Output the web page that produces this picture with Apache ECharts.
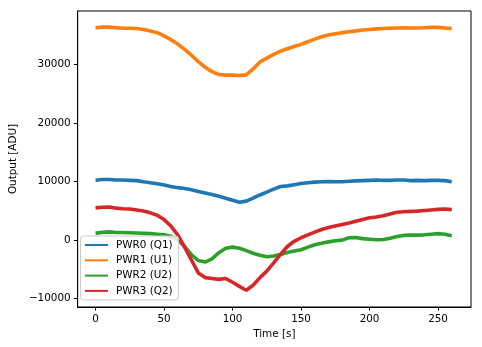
<!DOCTYPE html>
<html>
<head>
<meta charset="utf-8">
<script src="https://cdn.jsdelivr.net/npm/echarts@6/dist/echarts.min.js"></script>
<style>
html,body{margin:0;padding:0;background:#fff;}
#chart{width:482px;height:347px;}
</style>
</head>
<body>
<div id="chart"></div>
<script>
// time axis (s), sampled every 5 s
const times = [0,5,10,15,20,25,30,35,40,45,50,55,60,65,70,75,80,85,90,95,100,105,110,115,120,125,130,135,140,145,150,155,160,165,170,175,180,185,190,195,200,205,210,215,220,225,230,235,240,245,250,255,260];

const seriesNames = ['PWR0 (Q1)','PWR1 (U1)','PWR2 (U2)','PWR3 (Q2)'];

const pwr0 = [10200,10350,10350,10250,10250,10200,10150,9950,9800,9600,9400,9150,8950,8800,8600,8300,8050,7800,7500,7150,6800,6450,6650,7150,7700,8200,8700,9150,9250,9450,9650,9800,9900,9950,10000,9950,9950,10050,10100,10150,10200,10250,10200,10200,10250,10250,10150,10200,10150,10200,10200,10150,9950];

const pwr1 = [36250,36350,36350,36250,36150,36150,36100,35950,35700,35400,34850,34200,33450,32550,31550,30450,29500,28750,28250,28150,28150,28100,28200,29200,30400,31050,31700,32250,32650,33050,33400,33850,34300,34700,35000,35200,35400,35550,35700,35850,35950,36050,36100,36150,36200,36250,36200,36200,36250,36300,36300,36200,36100];

const pwr2 = [1150,1350,1400,1300,1300,1250,1200,1150,1100,1000,900,650,150,-1100,-2500,-3500,-3750,-3200,-2150,-1400,-1200,-1400,-1800,-2250,-2600,-2850,-2700,-2450,-2100,-1850,-1650,-1200,-800,-550,-300,-100,0,400,450,250,150,50,100,300,600,800,850,850,900,1000,1100,1000,750];

const pwr3 = [5500,5600,5650,5450,5350,5300,5150,4950,4650,4250,3500,2400,900,-1200,-3400,-5600,-6400,-6550,-6700,-6550,-7200,-7900,-8550,-7700,-6400,-5300,-3900,-2450,-1100,-200,400,900,1350,1800,2150,2400,2650,2900,3200,3500,3800,3950,4150,4450,4750,4850,4900,4950,5050,5150,5250,5300,5200];

const xTicks = [0,50,100,150,200,250];
const yTicks = [-10000,0,10000,20000,30000];

const colors = ['#1f77b4','#ff7f0e','#2ca02c','#d62728'];
const allValues = [pwr0,pwr1,pwr2,pwr3];

const FONT = 'DejaVu Sans';
const FS = 10.4;

const series = allValues.map((vals, i) => ({
  name: seriesNames[i],
  type: 'line',
  data: times.map((t, j) => [t, vals[j]]),
  showSymbol: false,
  symbol: 'none',
  lineStyle: { color: colors[i], width: 3.6 },
  itemStyle: { color: colors[i] },
  z: 2 + i
}));

const chart = echarts.init(document.getElementById('chart'), null, { renderer: 'canvas' });
chart.setOption({
  animation: false,
  backgroundColor: '#ffffff',
  textStyle: { fontFamily: FONT },
  grid: {
    left: 75, top: 11, width: 396, height: 296,
    show: true, borderColor: '#000', borderWidth: 1, backgroundColor: 'transparent'
  },
  xAxis: {
    type: 'value',
    min: -13.05, max: 274.05,
    name: 'Time [s]',
    nameLocation: 'middle',
    nameGap: 20,
    nameTextStyle: { color: '#000', fontSize: FS, fontFamily: FONT },
    axisLine: { show: true, onZero: false, lineStyle: { color: '#000', width: 1 } },
    axisTick: { show: true, length: 3.6, inside: false, lineStyle: { color: '#000', width: 1 }, customValues: xTicks },
    axisLabel: { color: '#000', fontSize: FS, fontFamily: FONT, margin: 7, customValues: xTicks },
    splitLine: { show: false }
  },
  yAxis: {
    type: 'value',
    min: -11416, max: 39096,
    name: 'Output [ADU]',
    nameLocation: 'middle',
    nameGap: 57,
    nameRotate: 90,
    nameTextStyle: { color: '#000', fontSize: FS, fontFamily: FONT },
    axisLine: { show: true, onZero: false, lineStyle: { color: '#000', width: 1 } },
    axisTick: { show: true, length: 3.6, inside: false, lineStyle: { color: '#000', width: 1 }, customValues: yTicks },
    axisLabel: {
      color: '#000', fontSize: FS, fontFamily: FONT, margin: 7, customValues: yTicks,
      formatter: v => String(v).replace('-', '\u2212')
    },
    splitLine: { show: false }
  },
  legend: {
    orient: 'vertical',
    left: 80.5, top: 236,
    data: seriesNames,
    icon: 'rect',
    itemWidth: 23, itemHeight: 2,
    itemGap: 3.3,
    padding: [3, 6, 3, 4.5],
    backgroundColor: 'rgba(255,255,255,0.8)',
    borderColor: '#cccccc', borderWidth: 1, borderRadius: 3,
    textStyle: { color: '#000', fontSize: FS, fontFamily: FONT, lineHeight: 12, padding: [0,0,0,3] },
    z: 10
  },
  series: series
});
</script>
</body>
</html>
